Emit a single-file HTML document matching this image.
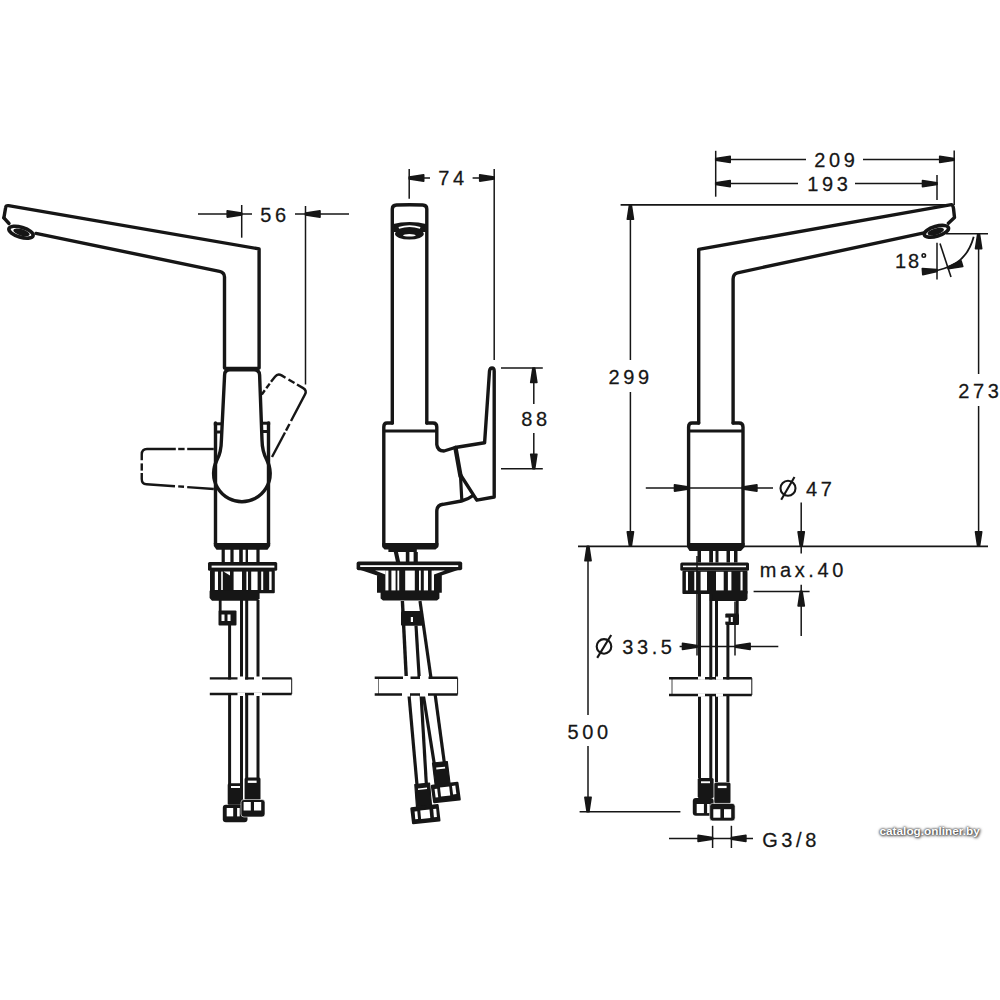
<!DOCTYPE html>
<html><head><meta charset="utf-8"><style>
html,body{margin:0;padding:0;background:#fff;overflow:hidden;width:1000px;height:1000px;}
svg{display:block;}
text{font-family:"Liberation Sans",sans-serif;}
.wm{position:absolute;left:879.5px;top:824px;font-family:"Liberation Sans",sans-serif;font-weight:bold;font-size:11.8px;color:#fff;text-shadow:0 0 2px #333,0 0 3px #555,1px 1px 3px #555;white-space:nowrap;}
</style></head><body>
<svg width="1000" height="1000" viewBox="0 0 1000 1000">
<rect width="1000" height="1000" fill="#fff"/>
<path d="M3.9,217.8 L5.6,207.8 Q5.9,205.2 8.5,205.7 L259.1,248.9 L259.1,368" fill="none" stroke="#161616" stroke-width="3.4" stroke-linejoin="round" stroke-linecap="round" />
<path d="M36,233.4 L219.5,271.3 Q224.5,272.5 224.5,277 L224.5,368" fill="none" stroke="#161616" stroke-width="3.4" stroke-linejoin="round" stroke-linecap="round" />
<path d="M3.9,217.8 L9,223.5" fill="none" stroke="#161616" stroke-width="3.4" stroke-linejoin="round" stroke-linecap="round" />
<ellipse cx="21" cy="232.2" rx="12.6" ry="5" transform="rotate(16.6 21 232.2)" fill="none" stroke="#161616" stroke-width="3.6"/>
<ellipse cx="21.5" cy="232.4" rx="8.5" ry="3.2" transform="rotate(16.6 21.5 232.4)" fill="#161616"/>
<line x1="224.5" y1="368.4" x2="259.1" y2="368.4" stroke="#161616" stroke-width="3.2" stroke-linecap="butt"/>
<path d="M224.6,375 L221.4,440 C221.3,448 219.4,455.6 217,460 A28.3,28.3 0 1,0 266.8,460 C264.4,455.6 262.1,448 262,440 L259.6,375 Q259.4,369.8 254,369.8 L230,369.8 Q224.6,369.8 224.6,375 Z" fill="none" stroke="#161616" stroke-width="3.4" stroke-linejoin="round" stroke-linecap="round" />
<path d="M215.5,423 L215.5,544" fill="none" stroke="#161616" stroke-width="3.4" stroke-linejoin="round" stroke-linecap="round" />
<path d="M268.5,423 L268.5,544" fill="none" stroke="#161616" stroke-width="3.4" stroke-linejoin="round" stroke-linecap="round" />
<path d="M213.8,543 L213.8,546 L216.5,549.8 L267.5,549.8 L270.2,546 L270.2,543 Z" fill="#161616"/>
<line x1="213.8" y1="423.8" x2="223" y2="423.8" stroke="#161616" stroke-width="3" stroke-linecap="butt"/>
<line x1="261.5" y1="423.2" x2="270.2" y2="423.2" stroke="#161616" stroke-width="3" stroke-linecap="butt"/>
<line x1="215.5" y1="432" x2="222.5" y2="432" stroke="#161616" stroke-width="3" stroke-linecap="butt"/>
<line x1="262.5" y1="431.5" x2="268.5" y2="431.5" stroke="#161616" stroke-width="3" stroke-linecap="butt"/>
<path d="M213.8,449 L187.2,449" fill="none" stroke="#161616" stroke-width="2.4" stroke-linecap="butt" stroke-linejoin="round"/>
<path d="M184.6,449 L178.2,449" fill="none" stroke="#161616" stroke-width="2.4" stroke-linecap="butt" stroke-linejoin="round"/>
<path d="M175.8,449 L147,449 Q141.75,449 141.75,454.5 L141.75,460.3" fill="none" stroke="#161616" stroke-width="2.4" stroke-linecap="butt" stroke-linejoin="round"/>
<path d="M141.75,463.4 L141.75,470.6" fill="none" stroke="#161616" stroke-width="2.4" stroke-linecap="butt" stroke-linejoin="round"/>
<path d="M141.75,473 L141.75,479 Q141.75,484 146.5,484.2 L175,486.2" fill="none" stroke="#161616" stroke-width="2.4" stroke-linecap="butt" stroke-linejoin="round"/>
<path d="M178.2,486.4 L184,486.8" fill="none" stroke="#161616" stroke-width="2.4" stroke-linecap="butt" stroke-linejoin="round"/>
<path d="M187.2,487.1 L213.8,489" fill="none" stroke="#161616" stroke-width="2.4" stroke-linecap="butt" stroke-linejoin="round"/>
<path d="M261.8,394.5 L264.8,390.3" fill="none" stroke="#161616" stroke-width="2.4" stroke-linecap="butt" stroke-linejoin="round"/>
<path d="M266.3,388.2 L269.7,383.6" fill="none" stroke="#161616" stroke-width="2.4" stroke-linecap="butt" stroke-linejoin="round"/>
<path d="M271,381.8 L275,376.7 Q277.7,373.1 281.6,375.4 L285.5,377.7" fill="none" stroke="#161616" stroke-width="2.4" stroke-linecap="butt" stroke-linejoin="round"/>
<path d="M288.5,379.5 L294.5,383" fill="none" stroke="#161616" stroke-width="2.4" stroke-linecap="butt" stroke-linejoin="round"/>
<path d="M297,384.5 L303.2,388.1 Q307.1,390.4 305,394.4 L291,421" fill="none" stroke="#161616" stroke-width="2.4" stroke-linecap="butt" stroke-linejoin="round"/>
<path d="M289.5,424 L286,430.6" fill="none" stroke="#161616" stroke-width="2.4" stroke-linecap="butt" stroke-linejoin="round"/>
<path d="M285,432.5 L272,457" fill="none" stroke="#161616" stroke-width="2.4" stroke-linecap="butt" stroke-linejoin="round"/>
<rect x="221.6" y="549" width="3.200000000000017" height="13" rx="0" fill="#161616"/>
<rect x="230.4" y="549" width="3.1999999999999886" height="13" rx="0" fill="#161616"/>
<rect x="239.2" y="549" width="3.6000000000000227" height="13" rx="0" fill="#161616"/>
<rect x="245.6" y="549" width="2.4000000000000057" height="13" rx="0" fill="#161616"/>
<rect x="256.4" y="549" width="3.2000000000000455" height="13" rx="0" fill="#161616"/>
<rect x="208" y="562" width="69.2" height="8.8" rx="1.5" fill="#161616"/>
<rect x="211.6" y="565.6" width="62.79999999999998" height="2.0" rx="0" fill="#fff"/>
<rect x="210" y="570" width="64.8" height="23.2" rx="1" fill="#161616"/>
<rect x="214.8" y="571.6" width="3.1999999999999886" height="18.399999999999977" rx="0" fill="#fff"/>
<rect x="221.2" y="571.6" width="1.6000000000000227" height="18.399999999999977" rx="0" fill="#fff"/>
<rect x="233.6" y="571.6" width="8.400000000000006" height="18.399999999999977" rx="0" fill="#fff"/>
<rect x="246.4" y="571.6" width="1.5999999999999943" height="18.399999999999977" rx="0" fill="#fff"/>
<rect x="251.2" y="571.6" width="6.400000000000034" height="18.399999999999977" rx="0" fill="#fff"/>
<rect x="261.2" y="571.6" width="2.0" height="18.399999999999977" rx="0" fill="#fff"/>
<rect x="269.2" y="571.6" width="2.400000000000034" height="18.399999999999977" rx="0" fill="#fff"/>
<path d="M223.5,571.6 L230,571.6 L230,575.5 Z" fill="#fff"/>
<path d="M209.6,590.8 L259.6,590.8 L259.6,598.5 L257.5,600.8 L212,600.8 L209.6,598 Z" fill="#161616"/>
<line x1="220.2" y1="600" x2="220.2" y2="611" stroke="#161616" stroke-width="2.8" stroke-linecap="butt"/>
<line x1="229.6" y1="624" x2="229.6" y2="784" stroke="#161616" stroke-width="3" stroke-linecap="butt"/>
<line x1="241.5" y1="600" x2="241.5" y2="786" stroke="#161616" stroke-width="3" stroke-linecap="butt"/>
<line x1="246.7" y1="600" x2="246.7" y2="786" stroke="#161616" stroke-width="3" stroke-linecap="butt"/>
<line x1="258" y1="600" x2="258" y2="778" stroke="#161616" stroke-width="3" stroke-linecap="butt"/>
<rect x="218.5" y="610.5" width="18" height="15" rx="1" fill="#161616"/>
<rect x="221.5" y="614.5" width="3.0" height="6.5" rx="0" fill="#fff"/>
<rect x="227.5" y="614.5" width="3.0" height="6.5" rx="0" fill="#fff"/>
<rect x="205" y="679.5" width="90" height="14" rx="0" fill="#fff"/>
<line x1="209.8" y1="678.4" x2="291.7" y2="678.4" stroke="#161616" stroke-width="2.4" stroke-linecap="butt"/>
<line x1="209.8" y1="694" x2="291.7" y2="694" stroke="#161616" stroke-width="2.4" stroke-linecap="butt"/>
<line x1="291.7" y1="678.4" x2="291.7" y2="694" stroke="#161616" stroke-width="1" stroke-linecap="butt"/>
<rect x="237.5" y="676.5" width="7.5" height="3.5" rx="0" fill="#fff"/>
<rect x="254" y="676.5" width="8" height="3.5" rx="0" fill="#fff"/>
<rect x="237.5" y="692.5" width="7.5" height="3.5" rx="0" fill="#fff"/>
<rect x="254" y="692.5" width="8" height="3.5" rx="0" fill="#fff"/>
<rect x="227.7" y="783.2" width="15.3" height="21.5" rx="1.5" fill="#161616"/>
<rect x="231" y="786" width="9" height="2" rx="0" fill="#fff"/>
<rect x="222.8" y="804.7" width="24.7" height="17.5" rx="3" fill="#161616"/>
<rect x="226.7" y="808" width="6.5" height="8.399999999999977" rx="0" fill="#fff"/>
<rect x="237.1" y="808" width="2.5999999999999943" height="8.399999999999977" rx="0" fill="#fff"/>
<rect x="244.6" y="777.4" width="15.9" height="22.5" rx="1.5" fill="#161616"/>
<rect x="247.8" y="780.6" width="8.800000000000011" height="2.2999999999999545" rx="0" fill="#fff"/>
<rect x="241" y="799.5" width="24" height="17.5" rx="3" fill="#161616"/>
<rect x="241" y="799.5" width="24" height="17.5" rx="3" fill="none" stroke="#fff" stroke-width="0.6"/>
<rect x="243.6" y="802" width="7.200000000000017" height="8.5" rx="0" fill="#fff"/>
<rect x="254" y="802" width="7.199999999999989" height="8.5" rx="0" fill="#fff"/>
<line x1="198" y1="214" x2="252" y2="214" stroke="#161616" stroke-width="1.5" stroke-linecap="butt"/>
<path d="M241.70,213.10 L227.20,210.90 L227.20,217.10 L241.70,214.90Z" fill="#161616" stroke="#161616" stroke-width="1.6" stroke-linejoin="round"/>
<line x1="241.7" y1="205" x2="241.7" y2="237.7" stroke="#161616" stroke-width="1.5" stroke-linecap="butt"/>
<text transform="translate(260.2 222) scale(1 1.045)" x="0" y="0" font-size="20" letter-spacing="3.6" text-anchor="start" fill="#161616" stroke="#161616" stroke-width="0.25">56</text>
<line x1="295" y1="214" x2="349" y2="214" stroke="#161616" stroke-width="1.5" stroke-linecap="butt"/>
<path d="M305.50,214.90 L320.00,217.10 L320.00,210.90 L305.50,213.10Z" fill="#161616" stroke="#161616" stroke-width="1.6" stroke-linejoin="round"/>
<line x1="305.5" y1="206" x2="305.5" y2="384.5" stroke="#161616" stroke-width="1.5" stroke-linecap="butt"/>
<path d="M392.3,423 L392.3,209 Q392.3,205.2 396.5,205 Q409.6,204.5 422.7,205 Q426.8,205.2 426.8,209 L426.8,423" fill="none" stroke="#161616" stroke-width="3.4" stroke-linejoin="round" stroke-linecap="round" />
<path d="M392,224.2 Q409.6,220 427.2,224.2 L427.2,232 L392,232 Z" fill="#161616"/>
<ellipse cx="409.4" cy="234" rx="14.4" ry="5.5" fill="#161616"/>
<path d="M398.8,227.8 Q409.6,224.6 420.2,227.8" fill="none" stroke="#fff" stroke-width="1.8"/>
<ellipse cx="409.4" cy="235.3" rx="6.4" ry="1.3" fill="#fff"/>
<path d="M392.4,423 L387,423 Q383.8,423 383.8,427 L383.8,545" fill="none" stroke="#161616" stroke-width="3.4" stroke-linejoin="round" stroke-linecap="round" />
<path d="M426.8,423 L433,423 Q436.8,423 436.8,427 L436.8,444.5 Q437.5,451 444,451 L455.2,447.5 L484.6,442.8 L489.5,371 Q490,368 492,368 Q494.2,368 494.2,371 L494.2,497 L476.8,500.2 L460.6,475" fill="none" stroke="#161616" stroke-width="3.4" stroke-linejoin="round" stroke-linecap="round" />
<path d="M436.8,545 L436.8,511 Q437,505 443,504.3 L461.5,501 Q468,499.5 473,495.5" fill="none" stroke="#161616" stroke-width="3.4" stroke-linejoin="round" stroke-linecap="round" />
<line x1="383.8" y1="431" x2="436.8" y2="431" stroke="#161616" stroke-width="3" stroke-linecap="butt"/>
<path d="M455.5,448 L460.5,476" fill="none" stroke="#161616" stroke-width="4.4" stroke-linejoin="round" stroke-linecap="round" />
<path d="M460.5,476 L461.8,500" fill="none" stroke="#161616" stroke-width="3.2" stroke-linejoin="round" stroke-linecap="round" />
<path d="M382.2,543 L382.2,547 L384.5,549.6 L435.5,549.6 L438.4,547 L438.4,543 Z" fill="#161616"/>
<rect x="388.4" y="549" width="28.4" height="3" rx="0" fill="#161616"/>
<path d="M393.8,552 L398,552 L400.2,562 L396,562 Z" fill="#161616"/>
<rect x="405.8" y="552" width="3.6" height="10" rx="0" fill="#161616"/>
<rect x="413.6" y="552" width="4.2" height="10" rx="0" fill="#161616"/>
<rect x="356.6" y="561.6" width="105.6" height="8.6" rx="2" fill="#161616"/>
<rect x="360.2" y="565.2" width="98.0" height="1.7999999999999545" rx="0" fill="#fff"/>
<path d="M357.5,569 L378.5,576 L378.5,574.8 L377,574.8 L377,592.8 L380.6,592.8 L380.6,598.5 L383,600.6 L437,600.6 L439.4,598.5 L439.4,592.8 L441.8,592.8 L441.8,574.8 L440,576 L461,569 Z" fill="#161616"/>
<path d="M375,570.6 L385.4,570.6 L385.4,574.6 Z" fill="#fff"/>
<path d="M445,570.6 L434,570.6 L434,574.6 Z" fill="#fff"/>
<rect x="385.4" y="570.6" width="3.0" height="19.799999999999955" rx="0" fill="#fff"/>
<rect x="391.4" y="570.6" width="4.2000000000000455" height="19.799999999999955" rx="0" fill="#fff"/>
<rect x="397.4" y="570.6" width="1.8000000000000114" height="19.799999999999955" rx="0" fill="#fff"/>
<rect x="405.2" y="570.6" width="9.600000000000023" height="19.799999999999955" rx="0" fill="#fff"/>
<rect x="419" y="570.6" width="1.8000000000000114" height="19.799999999999955" rx="0" fill="#fff"/>
<rect x="423.8" y="570.6" width="4.199999999999989" height="19.799999999999955" rx="0" fill="#fff"/>
<rect x="431.6" y="570.6" width="2.3999999999999773" height="19.799999999999955" rx="0" fill="#fff"/>
<line x1="402.4" y1="601" x2="406.3" y2="678" stroke="#161616" stroke-width="3.4" stroke-linecap="butt"/>
<line x1="416" y1="625.7" x2="419.2" y2="678" stroke="#161616" stroke-width="3.2" stroke-linecap="butt"/>
<line x1="420" y1="601" x2="431" y2="678" stroke="#161616" stroke-width="3.2" stroke-linecap="butt"/>
<rect x="401" y="611" width="21.7" height="14.7" rx="1.5" fill="#161616"/>
<rect x="410.8" y="617" width="2.1999999999999886" height="5" rx="0" fill="#fff"/>
<line x1="409" y1="695" x2="417" y2="785" stroke="#161616" stroke-width="3.2" stroke-linecap="butt"/>
<line x1="421.1" y1="695" x2="426.4" y2="785" stroke="#161616" stroke-width="3.2" stroke-linecap="butt"/>
<line x1="423.3" y1="695" x2="434.3" y2="764" stroke="#161616" stroke-width="3.2" stroke-linecap="butt"/>
<line x1="435.2" y1="695" x2="444.5" y2="764" stroke="#161616" stroke-width="3.2" stroke-linecap="butt"/>
<rect x="370" y="679.5" width="92" height="14" rx="0" fill="#fff"/>
<line x1="374.7" y1="677.7" x2="457.6" y2="677.7" stroke="#161616" stroke-width="2.4" stroke-linecap="butt"/>
<line x1="374.7" y1="694.5" x2="457.6" y2="694.5" stroke="#161616" stroke-width="2.4" stroke-linecap="butt"/>
<line x1="457.6" y1="677.7" x2="457.6" y2="694.5" stroke="#161616" stroke-width="1" stroke-linecap="butt"/>
<line x1="378.5" y1="677.7" x2="378.5" y2="694.5" stroke="#161616" stroke-width="0.6" stroke-linecap="butt"/>
<rect x="403" y="676" width="7.5" height="3.5" rx="0" fill="#fff"/>
<rect x="420" y="676" width="8.5" height="3.5" rx="0" fill="#fff"/>
<rect x="402" y="693" width="8" height="3.5" rx="0" fill="#fff"/>
<rect x="420" y="693" width="8" height="3.5" rx="0" fill="#fff"/>
<path d="M414.8,784.5 L429.5,783 L431.5,805.5 L416.5,807Z" fill="#161616" stroke="#161616" stroke-width="1.2" stroke-linejoin="round"/>
<path d="M418,788.6 L427,787.6 L427.1,789 L418.1,790Z" fill="#fff"/>
<path d="M411.5,808.5 L437.5,805.3 L439.3,820.3 L413.2,823Z" fill="#161616" stroke="#161616" stroke-width="2.4" stroke-linejoin="round"/>
<path d="M414.6,811.5 L417.3,811.2 L418,819 L415.3,819.3Z" fill="#fff"/>
<path d="M420.3,810.5 L429.5,809.5 L430.3,818 L421.1,819Z" fill="#fff"/>
<path d="M433.2,809 L436.2,808.7 L436.9,817 L433.9,817.3Z" fill="#fff"/>
<path d="M432.5,763 L447.3,761.5 L450.1,784 L435.2,785.5Z" fill="#161616" stroke="#161616" stroke-width="1.2" stroke-linejoin="round"/>
<path d="M436.2,767.6 L445,766.7 L445.2,768.5 L436.4,769.4Z" fill="#fff"/>
<path d="M432,786 L457.3,783 L459.6,799.3 L434.3,802Z" fill="#161616" stroke="#161616" stroke-width="2.4" stroke-linejoin="round"/>
<path d="M434.6,789 L437.2,788.7 L438.2,797.3 L435.6,797.6Z" fill="#fff"/>
<path d="M440,787.5 L449.2,786.5 L450.2,795.5 L441,796.5Z" fill="#fff"/>
<path d="M452,786 L455.3,785.6 L456.4,794 L453.1,794.4Z" fill="#fff"/>
<line x1="409.2" y1="169" x2="409.2" y2="198.7" stroke="#161616" stroke-width="1.5" stroke-linecap="butt"/>
<line x1="409.2" y1="178" x2="430" y2="178" stroke="#161616" stroke-width="1.5" stroke-linecap="butt"/>
<path d="M409.20,178.90 L423.70,181.10 L423.70,174.90 L409.20,177.10Z" fill="#161616" stroke="#161616" stroke-width="1.6" stroke-linejoin="round"/>
<text transform="translate(438.2 185.2) scale(1 1.045)" x="0" y="0" font-size="20" letter-spacing="3.6" text-anchor="start" fill="#161616" stroke="#161616" stroke-width="0.25">74</text>
<line x1="472.6" y1="178" x2="494.2" y2="178" stroke="#161616" stroke-width="1.5" stroke-linecap="butt"/>
<path d="M494.20,177.10 L479.70,174.90 L479.70,181.10 L494.20,178.90Z" fill="#161616" stroke="#161616" stroke-width="1.6" stroke-linejoin="round"/>
<line x1="494.2" y1="169" x2="494.2" y2="360" stroke="#161616" stroke-width="1.5" stroke-linecap="butt"/>
<line x1="501" y1="368" x2="542.8" y2="368" stroke="#161616" stroke-width="1.5" stroke-linecap="butt"/>
<line x1="501" y1="468.7" x2="542.8" y2="468.7" stroke="#161616" stroke-width="1.5" stroke-linecap="butt"/>
<line x1="533.8" y1="368" x2="533.8" y2="404" stroke="#161616" stroke-width="1.5" stroke-linecap="butt"/>
<line x1="533.8" y1="433" x2="533.8" y2="468.7" stroke="#161616" stroke-width="1.5" stroke-linecap="butt"/>
<path d="M532.90,368.00 L530.70,382.50 L536.90,382.50 L534.70,368.00Z" fill="#161616" stroke="#161616" stroke-width="1.6" stroke-linejoin="round"/>
<path d="M534.70,468.70 L536.90,454.20 L530.70,454.20 L532.90,468.70Z" fill="#161616" stroke="#161616" stroke-width="1.6" stroke-linejoin="round"/>
<text transform="translate(521.2 426.4) scale(1 1.045)" x="0" y="0" font-size="20" letter-spacing="3.6" text-anchor="start" fill="#161616" stroke="#161616" stroke-width="0.25">88</text>
<path d="M698.7,423 L698.7,249.4 L951.4,204.6 Q953,205 953.5,208.5 L954.5,217.5 L948.4,223.2" fill="none" stroke="#161616" stroke-width="3.4" stroke-linejoin="round" stroke-linecap="round" />
<path d="M924,232.9 L737.5,272.8 Q733.1,274 733.1,279 L733.1,423" fill="none" stroke="#161616" stroke-width="3.4" stroke-linejoin="round" stroke-linecap="round" />
<ellipse cx="936.4" cy="231.3" rx="12.6" ry="4.9" transform="rotate(-16.3 936.4 231.3)" fill="none" stroke="#161616" stroke-width="3.6"/>
<ellipse cx="935.8" cy="231.6" rx="8.5" ry="3.2" transform="rotate(-16.3 935.8 231.6)" fill="#161616"/>
<path d="M698.7,423 L692,423 Q688.6,423 688.6,427 L688.6,545" fill="none" stroke="#161616" stroke-width="3.4" stroke-linejoin="round" stroke-linecap="round" />
<path d="M743,545 L743,427 Q743,423 739,423 L733.1,423" fill="none" stroke="#161616" stroke-width="3.4" stroke-linejoin="round" stroke-linecap="round" />
<line x1="688.6" y1="431" x2="743" y2="431" stroke="#161616" stroke-width="3" stroke-linecap="butt"/>
<path d="M687,543 L687,547 L689.5,551 L741,551 L744.6,547 L744.6,543 Z" fill="#161616"/>
<rect x="697.5" y="550" width="3.5" height="12.5" rx="0" fill="#161616"/>
<rect x="709.2" y="550" width="3.7999999999999545" height="12.5" rx="0" fill="#161616"/>
<rect x="715.5" y="550" width="3.0" height="12.5" rx="0" fill="#161616"/>
<rect x="726.5" y="550" width="3.5" height="12.5" rx="0" fill="#161616"/>
<rect x="734" y="550" width="3.5" height="12.5" rx="0" fill="#161616"/>
<rect x="680.3" y="562.4" width="68.7" height="8.4" rx="1.5" fill="#161616"/>
<rect x="683" y="565.6" width="63" height="1.6000000000000227" rx="0" fill="#fff"/>
<rect x="682.4" y="570.8" width="65.1" height="23.2" rx="1" fill="#161616"/>
<rect x="685.9" y="571.8" width="2.1000000000000227" height="18.600000000000023" rx="0" fill="#fff"/>
<rect x="694.3" y="571.8" width="2.1000000000000227" height="18.600000000000023" rx="0" fill="#fff"/>
<rect x="700.6" y="571.8" width="6.399999999999977" height="18.600000000000023" rx="0" fill="#fff"/>
<rect x="716" y="571.8" width="7.7000000000000455" height="18.600000000000023" rx="0" fill="#fff"/>
<rect x="727.9" y="571.8" width="3.5" height="18.600000000000023" rx="0" fill="#fff"/>
<rect x="740.5" y="571.8" width="2.1000000000000227" height="18.600000000000023" rx="0" fill="#fff"/>
<path d="M709.7,591 L747.5,591 L747.5,599 L745.5,601 L709.7,601 Z" fill="#161616"/>
<rect x="725.3" y="613.6" width="13.7" height="11.4" rx="1" fill="#161616"/>
<rect x="724.5" y="617.6" width="4.0" height="4.0" rx="0" fill="#fff"/>
<rect x="730.8" y="617" width="2.0" height="5" rx="0" fill="#fff"/>
<line x1="737.2" y1="601" x2="737.2" y2="614" stroke="#161616" stroke-width="3" stroke-linecap="butt"/>
<line x1="699.5" y1="594" x2="699.5" y2="778" stroke="#161616" stroke-width="3" stroke-linecap="butt"/>
<line x1="710.8" y1="594" x2="710.8" y2="782" stroke="#161616" stroke-width="3" stroke-linecap="butt"/>
<line x1="716.5" y1="594" x2="716.5" y2="782" stroke="#161616" stroke-width="3" stroke-linecap="butt"/>
<line x1="727.9" y1="625" x2="727.9" y2="782" stroke="#161616" stroke-width="3" stroke-linecap="butt"/>
<rect x="665" y="679.5" width="90" height="14.5" rx="0" fill="#fff"/>
<line x1="669" y1="678.2" x2="751.8" y2="678.2" stroke="#161616" stroke-width="2.4" stroke-linecap="butt"/>
<line x1="669" y1="695" x2="751.8" y2="695" stroke="#161616" stroke-width="2.4" stroke-linecap="butt"/>
<line x1="751.8" y1="678.2" x2="751.8" y2="695" stroke="#161616" stroke-width="1" stroke-linecap="butt"/>
<line x1="672" y1="678.2" x2="672" y2="695" stroke="#161616" stroke-width="0.8" stroke-linecap="butt"/>
<rect x="698" y="676.5" width="7" height="3.2999999999999545" rx="0" fill="#fff"/>
<rect x="716" y="676.5" width="7" height="3.2999999999999545" rx="0" fill="#fff"/>
<rect x="698" y="693.3" width="7" height="3.400000000000091" rx="0" fill="#fff"/>
<rect x="716" y="693.3" width="7" height="3.400000000000091" rx="0" fill="#fff"/>
<rect x="697.7" y="778" width="15.9" height="20" rx="1.5" fill="#161616"/>
<rect x="701" y="781.3" width="9" height="1.900000000000091" rx="0" fill="#fff"/>
<rect x="692.8" y="798" width="20.8" height="17.7" rx="3" fill="#161616"/>
<rect x="696.7" y="804" width="7.199999999999932" height="9.100000000000023" rx="0" fill="#fff"/>
<rect x="707.1" y="804" width="2.6000000000000227" height="9.100000000000023" rx="0" fill="#fff"/>
<rect x="714.3" y="782.6" width="16.2" height="21" rx="1.5" fill="#161616"/>
<rect x="717.8" y="785.8" width="8.800000000000068" height="2.300000000000068" rx="0" fill="#fff"/>
<rect x="709.7" y="803.4" width="25.4" height="17.5" rx="3" fill="#161616"/>
<rect x="709.7" y="803.4" width="25.4" height="17.5" rx="3" fill="none" stroke="#fff" stroke-width="0.6"/>
<rect x="713.3" y="809.2" width="7.100000000000023" height="8.5" rx="0" fill="#fff"/>
<rect x="724" y="809.2" width="7.2000000000000455" height="8.5" rx="0" fill="#fff"/>
<line x1="578" y1="546.3" x2="988" y2="546.3" stroke="#161616" stroke-width="1.8" stroke-linecap="butt"/>
<line x1="620.6" y1="204.8" x2="952" y2="204.8" stroke="#161616" stroke-width="1.8" stroke-linecap="butt"/>
<line x1="715.7" y1="150.8" x2="715.7" y2="196.7" stroke="#161616" stroke-width="1.5" stroke-linecap="butt"/>
<line x1="715.7" y1="159.4" x2="806" y2="159.4" stroke="#161616" stroke-width="1.5" stroke-linecap="butt"/>
<path d="M715.70,160.30 L730.20,162.50 L730.20,156.30 L715.70,158.50Z" fill="#161616" stroke="#161616" stroke-width="1.6" stroke-linejoin="round"/>
<text transform="translate(814.2 167.4) scale(1 1.045)" x="0" y="0" font-size="20" letter-spacing="3.6" text-anchor="start" fill="#161616" stroke="#161616" stroke-width="0.25">209</text>
<line x1="863" y1="159.4" x2="954.2" y2="159.4" stroke="#161616" stroke-width="1.5" stroke-linecap="butt"/>
<path d="M954.20,158.50 L939.70,156.30 L939.70,162.50 L954.20,160.30Z" fill="#161616" stroke="#161616" stroke-width="1.6" stroke-linejoin="round"/>
<line x1="954.2" y1="150.5" x2="954.2" y2="205" stroke="#161616" stroke-width="1.5" stroke-linecap="butt"/>
<line x1="715.7" y1="183.6" x2="798" y2="183.6" stroke="#161616" stroke-width="1.5" stroke-linecap="butt"/>
<path d="M715.70,184.50 L730.20,186.70 L730.20,180.50 L715.70,182.70Z" fill="#161616" stroke="#161616" stroke-width="1.6" stroke-linejoin="round"/>
<text transform="translate(807.2 191.3) scale(1 1.045)" x="0" y="0" font-size="20" letter-spacing="3.6" text-anchor="start" fill="#161616" stroke="#161616" stroke-width="0.25">193</text>
<line x1="855" y1="183.6" x2="937" y2="183.6" stroke="#161616" stroke-width="1.5" stroke-linecap="butt"/>
<path d="M937.00,182.70 L922.50,180.50 L922.50,186.70 L937.00,184.50Z" fill="#161616" stroke="#161616" stroke-width="1.6" stroke-linejoin="round"/>
<line x1="937" y1="175" x2="937" y2="200" stroke="#161616" stroke-width="1.5" stroke-linecap="butt"/>
<line x1="630.4" y1="204.8" x2="630.4" y2="360" stroke="#161616" stroke-width="1.5" stroke-linecap="butt"/>
<path d="M629.50,204.80 L627.30,219.30 L633.50,219.30 L631.30,204.80Z" fill="#161616" stroke="#161616" stroke-width="1.6" stroke-linejoin="round"/>
<text transform="translate(608.6 383.6) scale(1 1.045)" x="0" y="0" font-size="20" letter-spacing="3.6" text-anchor="start" fill="#161616" stroke="#161616" stroke-width="0.25">299</text>
<line x1="630.4" y1="392" x2="630.4" y2="546.3" stroke="#161616" stroke-width="1.5" stroke-linecap="butt"/>
<path d="M631.30,546.30 L633.50,531.80 L627.30,531.80 L629.50,546.30Z" fill="#161616" stroke="#161616" stroke-width="1.6" stroke-linejoin="round"/>
<line x1="946" y1="233.7" x2="988" y2="233.7" stroke="#161616" stroke-width="1.5" stroke-linecap="butt"/>
<line x1="978.6" y1="234.2" x2="978.6" y2="374" stroke="#161616" stroke-width="1.5" stroke-linecap="butt"/>
<path d="M977.70,234.20 L975.50,248.70 L981.70,248.70 L979.50,234.20Z" fill="#161616" stroke="#161616" stroke-width="1.6" stroke-linejoin="round"/>
<text transform="translate(958.2 398.3) scale(1 1.045)" x="0" y="0" font-size="20" letter-spacing="3.6" text-anchor="start" fill="#161616" stroke="#161616" stroke-width="0.25">273</text>
<line x1="978.6" y1="406" x2="978.6" y2="546.3" stroke="#161616" stroke-width="1.5" stroke-linecap="butt"/>
<path d="M979.50,546.30 L981.70,531.80 L975.50,531.80 L977.70,546.30Z" fill="#161616" stroke="#161616" stroke-width="1.6" stroke-linejoin="round"/>
<line x1="937" y1="242.7" x2="937" y2="279.5" stroke="#161616" stroke-width="1.5" stroke-linecap="butt"/>
<line x1="940" y1="243.5" x2="951" y2="277" stroke="#161616" stroke-width="1.6" stroke-linecap="butt"/>
<path d="M973.7,236.7 Q967,262 944,268.5 L937,270.5" fill="none" stroke="#161616" stroke-width="1.8"/>
<path d="M936.93,269.60 L922.31,268.67 L922.79,274.65 L937.07,271.40Z" fill="#161616" stroke="#161616" stroke-width="1.6" stroke-linejoin="round"/>
<path d="M948.26,268.66 L962.75,266.51 L961.03,260.76 L947.74,266.94Z" fill="#161616" stroke="#161616" stroke-width="1.6" stroke-linejoin="round"/>
<text transform="translate(894.9000000000001 268.2) scale(1 1.045)" x="0" y="0" font-size="20" letter-spacing="2" text-anchor="start" fill="#161616" stroke="#161616" stroke-width="0.25">18</text>
<circle cx="923.8" cy="255.5" r="1.7" fill="none" stroke="#161616" stroke-width="1.6"/>
<line x1="645.8" y1="488" x2="773" y2="488" stroke="#161616" stroke-width="1.5" stroke-linecap="butt"/>
<path d="M689.00,487.10 L674.50,484.90 L674.50,491.10 L689.00,488.90Z" fill="#161616" stroke="#161616" stroke-width="1.6" stroke-linejoin="round"/>
<path d="M742.40,488.90 L756.90,491.10 L756.90,484.90 L742.40,487.10Z" fill="#161616" stroke="#161616" stroke-width="1.6" stroke-linejoin="round"/>
<circle cx="788" cy="488.2" r="7.5" fill="none" stroke="#161616" stroke-width="2.1"/>
<line x1="781.2" y1="499.7" x2="794.5" y2="477" stroke="#161616" stroke-width="2.1" stroke-linecap="butt"/>
<text transform="translate(806.0 495.6) scale(1 1.045)" x="0" y="0" font-size="20" letter-spacing="3.6" text-anchor="start" fill="#161616" stroke="#161616" stroke-width="0.25">47</text>
<line x1="801.2" y1="502.6" x2="801.2" y2="553.6" stroke="#161616" stroke-width="1.5" stroke-linecap="butt"/>
<path d="M802.10,546.30 L804.30,531.80 L798.10,531.80 L800.30,546.30Z" fill="#161616" stroke="#161616" stroke-width="1.6" stroke-linejoin="round"/>
<line x1="753.6" y1="591.4" x2="809.6" y2="591.4" stroke="#161616" stroke-width="1.5" stroke-linecap="butt"/>
<line x1="801.2" y1="584.8" x2="801.2" y2="636" stroke="#161616" stroke-width="1.5" stroke-linecap="butt"/>
<path d="M800.30,591.40 L798.10,605.90 L804.30,605.90 L802.10,591.40Z" fill="#161616" stroke="#161616" stroke-width="1.6" stroke-linejoin="round"/>
<text transform="translate(759.8000000000001 576.8) scale(1 1.045)" x="0" y="0" font-size="20" letter-spacing="3.6" text-anchor="start" fill="#161616" stroke="#161616" stroke-width="0.25">max.40</text>
<line x1="697" y1="556" x2="697" y2="655.5" stroke="#161616" stroke-width="1.5" stroke-linecap="butt"/>
<line x1="735" y1="601.6" x2="735" y2="655.5" stroke="#161616" stroke-width="1.5" stroke-linecap="butt"/>
<line x1="679.6" y1="646.4" x2="778.3" y2="646.4" stroke="#161616" stroke-width="1.5" stroke-linecap="butt"/>
<path d="M697.00,645.50 L682.50,643.30 L682.50,649.50 L697.00,647.30Z" fill="#161616" stroke="#161616" stroke-width="1.6" stroke-linejoin="round"/>
<path d="M735.60,647.30 L750.10,649.50 L750.10,643.30 L735.60,645.50Z" fill="#161616" stroke="#161616" stroke-width="1.6" stroke-linejoin="round"/>
<circle cx="604" cy="646.4" r="7.3" fill="none" stroke="#161616" stroke-width="2.1"/>
<line x1="597.2" y1="657.9" x2="611.2" y2="635" stroke="#161616" stroke-width="2.1" stroke-linecap="butt"/>
<text transform="translate(622.2 653.6) scale(1 1.045)" x="0" y="0" font-size="20" letter-spacing="3.6" text-anchor="start" fill="#161616" stroke="#161616" stroke-width="0.25">33.5</text>
<line x1="588" y1="546.3" x2="588" y2="715" stroke="#161616" stroke-width="1.5" stroke-linecap="butt"/>
<line x1="588" y1="746" x2="588" y2="811.8" stroke="#161616" stroke-width="1.5" stroke-linecap="butt"/>
<path d="M588.90,811.80 L591.10,797.30 L584.90,797.30 L587.10,811.80Z" fill="#161616" stroke="#161616" stroke-width="1.6" stroke-linejoin="round"/>
<path d="M587.10,546.30 L584.90,560.80 L591.10,560.80 L588.90,546.30Z" fill="#161616" stroke="#161616" stroke-width="1.6" stroke-linejoin="round"/>
<line x1="579.6" y1="811.8" x2="680.4" y2="811.8" stroke="#161616" stroke-width="1.5" stroke-linecap="butt"/>
<text transform="translate(567.6 739) scale(1 1.045)" x="0" y="0" font-size="20" letter-spacing="3.6" text-anchor="start" fill="#161616" stroke="#161616" stroke-width="0.25">500</text>
<line x1="669" y1="838.4" x2="753" y2="838.4" stroke="#161616" stroke-width="1.5" stroke-linecap="butt"/>
<line x1="712.6" y1="825.8" x2="712.6" y2="848" stroke="#161616" stroke-width="1.5" stroke-linecap="butt"/>
<line x1="731.4" y1="825.8" x2="731.4" y2="848" stroke="#161616" stroke-width="1.5" stroke-linecap="butt"/>
<path d="M712.60,837.50 L698.10,835.30 L698.10,841.50 L712.60,839.30Z" fill="#161616" stroke="#161616" stroke-width="1.6" stroke-linejoin="round"/>
<path d="M731.40,839.30 L745.90,841.50 L745.90,835.30 L731.40,837.50Z" fill="#161616" stroke="#161616" stroke-width="1.6" stroke-linejoin="round"/>
<text transform="translate(762.2 846.8) scale(1 1.045)" x="0" y="0" font-size="20" letter-spacing="3.6" text-anchor="start" fill="#161616" stroke="#161616" stroke-width="0.25">G3/8</text>
</svg>
<div class="wm">catalog.onliner.by</div>
</body></html>
